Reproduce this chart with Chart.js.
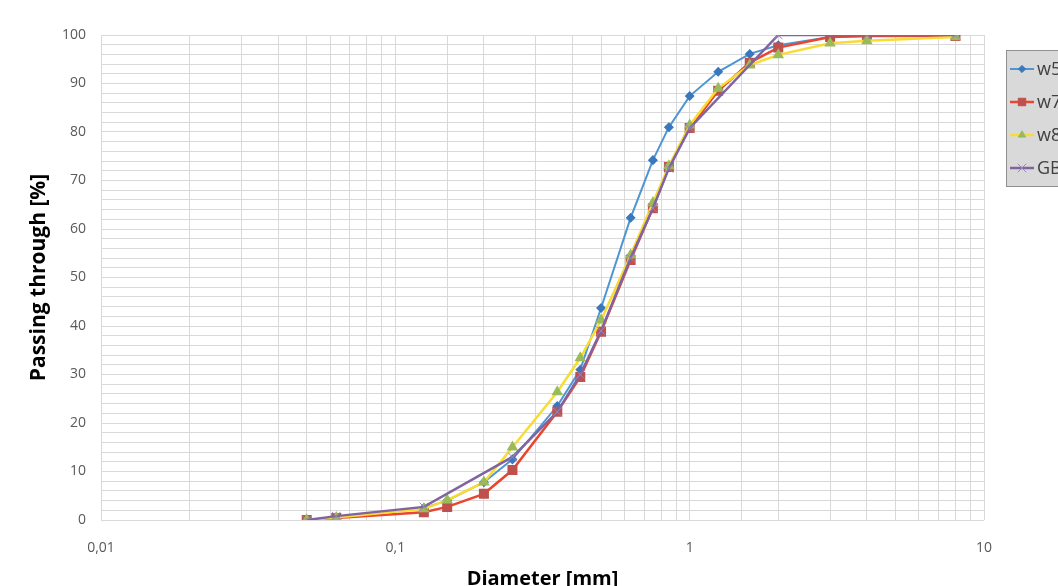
<!DOCTYPE html>
<html lang="en">
<head>
<meta charset="UTF-8">
<title>Grain size distribution</title>
<script src="https://cdn.jsdelivr.net/npm/chart.js@4.4.0/dist/chart.umd.min.js"></script>
<style>
  * { margin: 0; padding: 0; box-sizing: border-box; }
  html, body { width: 1058px; height: 586px; overflow: hidden; background: #fff; }
  #wrap { position: relative; width: 1058px; height: 600px; }
</style>
</head>
<body>
<div id="wrap"><canvas id="grading" width="1058" height="600"></canvas></div>
<script>
// sieve sizes [mm]
const sieves = [0.05, 0.063, 0.125, 0.15, 0.2, 0.25, 0.355, 0.425, 0.5, 0.63, 0.75, 0.85, 1, 1.25, 1.6, 2, 3, 4, 8];
const w5 = [0, 0.5, 2.5, 4, 7.8, 12.5, 23.5, 31, 43.7, 62.3, 74.2, 81, 87.4, 92.4, 96.1, 97.9, 99.6, 99.8, 100];
const w7 = [0, 0.4, 1.6, 2.7, 5.4, 10.3, 22.3, 29.5, 38.8, 53.6, 64.3, 72.8, 80.8, 88.5, 94.3, 97.4, 99.6, 99.8, 99.8];
const w8 = [0, 0.5, 2.3, 4.1, 7.8, 15, 26.4, 33.4, 41.2, 54.6, 65.4, 73, 81.4, 89, 93.8, 95.9, 98.3, 98.8, 99.6];
// GB measured on fewer sieves
const sievesGB = [0.05, 0.063, 0.125, 0.25, 0.355, 0.425, 0.5, 0.63, 0.75, 0.85, 1, 2, 4, 8];
const gb = [0, 0.8, 2.7, 13, 22.3, 30, 39, 54, 64.3, 72.5, 80.8, 100, 100, 100];

const seriesNames = ['w5', 'w7', 'w8', 'GB'];
const xTickLabels = { 0.01: '0,01', 0.1: '0,1', 1: '1', 10: '10' };

const pts = (xs, ys) => xs.map((x, i) => ({ x: x, y: ys[i] }));

const gridColor = '#d9d9d9';
const tickFont = { family: '"Open Sans", sans-serif', size: 14 };

// legend box, clipped at the right edge like the original
const boxLegend = {
  id: 'boxLegend',
  afterDraw(chart) {
    const ctx = chart.ctx;
    ctx.save();
    ctx.fillStyle = '#d9d9d9';
    ctx.strokeStyle = '#8f8f8f';
    ctx.lineWidth = 1;
    ctx.fillRect(1006.5, 50.5, 90, 136);
    ctx.strokeRect(1006.5, 50.5, 90, 136);
    chart.data.datasets.forEach((ds, i) => {
      const y = 69 + i * 33;
      ctx.strokeStyle = ds.borderColor;
      ctx.lineWidth = ds.borderWidth;
      ctx.beginPath();
      ctx.moveTo(1010, y);
      ctx.lineTo(1034, y);
      ctx.stroke();
      const r = ds.pointRadius;
      ctx.fillStyle = ds.pointBackgroundColor;
      ctx.strokeStyle = ds.pointBorderColor;
      ctx.lineWidth = 1;
      ctx.beginPath();
      const cx = 1022;
      if (ds.pointStyle === 'rectRot') {
        ctx.moveTo(cx, y - r); ctx.lineTo(cx + r, y); ctx.lineTo(cx, y + r); ctx.lineTo(cx - r, y); ctx.closePath();
        ctx.fill(); ctx.stroke();
      } else if (ds.pointStyle === 'rect') {
        const s = r * Math.SQRT1_2;
        ctx.rect(cx - s, y - s, 2 * s, 2 * s); ctx.fill(); ctx.stroke();
      } else if (ds.pointStyle === 'triangle') {
        ctx.moveTo(cx, y - r); ctx.lineTo(cx + r * 0.87, y + r * 0.5); ctx.lineTo(cx - r * 0.87, y + r * 0.5); ctx.closePath();
        ctx.fill(); ctx.stroke();
      } else {
        const s = r * Math.SQRT1_2;
        ctx.moveTo(cx - s, y - s); ctx.lineTo(cx + s, y + s);
        ctx.moveTo(cx + s, y - s); ctx.lineTo(cx - s, y + s);
        ctx.stroke();
      }
      ctx.fillStyle = '#404040';
      ctx.font = '18px "Open Sans", sans-serif';
      ctx.textBaseline = 'middle';
      ctx.fillText(seriesNames[i], 1037, y + 1);
    });
    ctx.restore();
  }
};

new Chart(document.getElementById('grading'), {
  type: 'line',
  data: {
    datasets: [
      {
        label: seriesNames[0], data: pts(sieves, w5), order: 4,
        borderColor: '#4d95d3', borderWidth: 2,
        pointStyle: 'rectRot', pointRadius: 3.6, pointBackgroundColor: '#3a78bd', pointBorderColor: '#3a78bd'
      },
      {
        label: seriesNames[1], data: pts(sieves, w7), order: 3,
        borderColor: '#e9462d', borderWidth: 2.5,
        pointStyle: 'rect', pointRadius: 5.3, pointBackgroundColor: '#c0504d', pointBorderColor: '#c0504d'
      },
      {
        label: seriesNames[2], data: pts(sieves, w8), order: 2,
        borderColor: '#f8dc34', borderWidth: 2.5,
        pointStyle: 'triangle', pointRadius: 4.2, pointBackgroundColor: '#9bbb59', pointBorderColor: '#9bbb59'
      },
      {
        label: seriesNames[3], data: pts(sievesGB, gb), order: 1,
        borderColor: '#8064a2', borderWidth: 2.5,
        pointStyle: 'crossRot', pointRadius: 6, pointBackgroundColor: '#9a86b8', pointBorderColor: '#9a86b8', pointBorderWidth: 1
      }
    ]
  },
  options: {
    responsive: false,
    animation: false,
    layout: { padding: { left: 0, top: 35, right: 74, bottom: 0 } },
    plugins: { legend: { display: false }, tooltip: { enabled: false } },
    elements: { line: { tension: 0 } },
    scales: {
      x: {
        type: 'logarithmic', min: 0.01, max: 10,
        grid: { color: gridColor, drawTicks: false },
        border: { display: false },
        ticks: {
          autoSkip: false, maxRotation: 0, padding: 20, color: '#595959', font: tickFont,
          callback: v => xTickLabels[v] !== undefined ? xTickLabels[v] : ''
        },
        title: {
          display: true, text: 'Diameter [mm]', color: '#000',
          font: { family: '"Open Sans", sans-serif', size: 20, weight: 'bold' },
          padding: { top: 0, bottom: 9 }
        },
        afterFit: s => { s.height = 80; }
      },
      y: {
        min: 0, max: 100,
        grid: { color: gridColor, drawTicks: false },
        border: { display: false },
        ticks: {
          stepSize: 2, autoSkip: false, padding: 15, color: '#595959', font: tickFont,
          callback: v => v % 10 === 0 ? v : ''
        },
        title: {
          display: true, text: 'Passing through [%]', color: '#000',
          font: { family: '"Open Sans", sans-serif', size: 21, weight: 'bold' },
          padding: { top: 26, bottom: 0 }
        },
        afterFit: s => { s.width = 101; }
      }
    }
  },
  plugins: [boxLegend]
});
</script>
</body>
</html>
